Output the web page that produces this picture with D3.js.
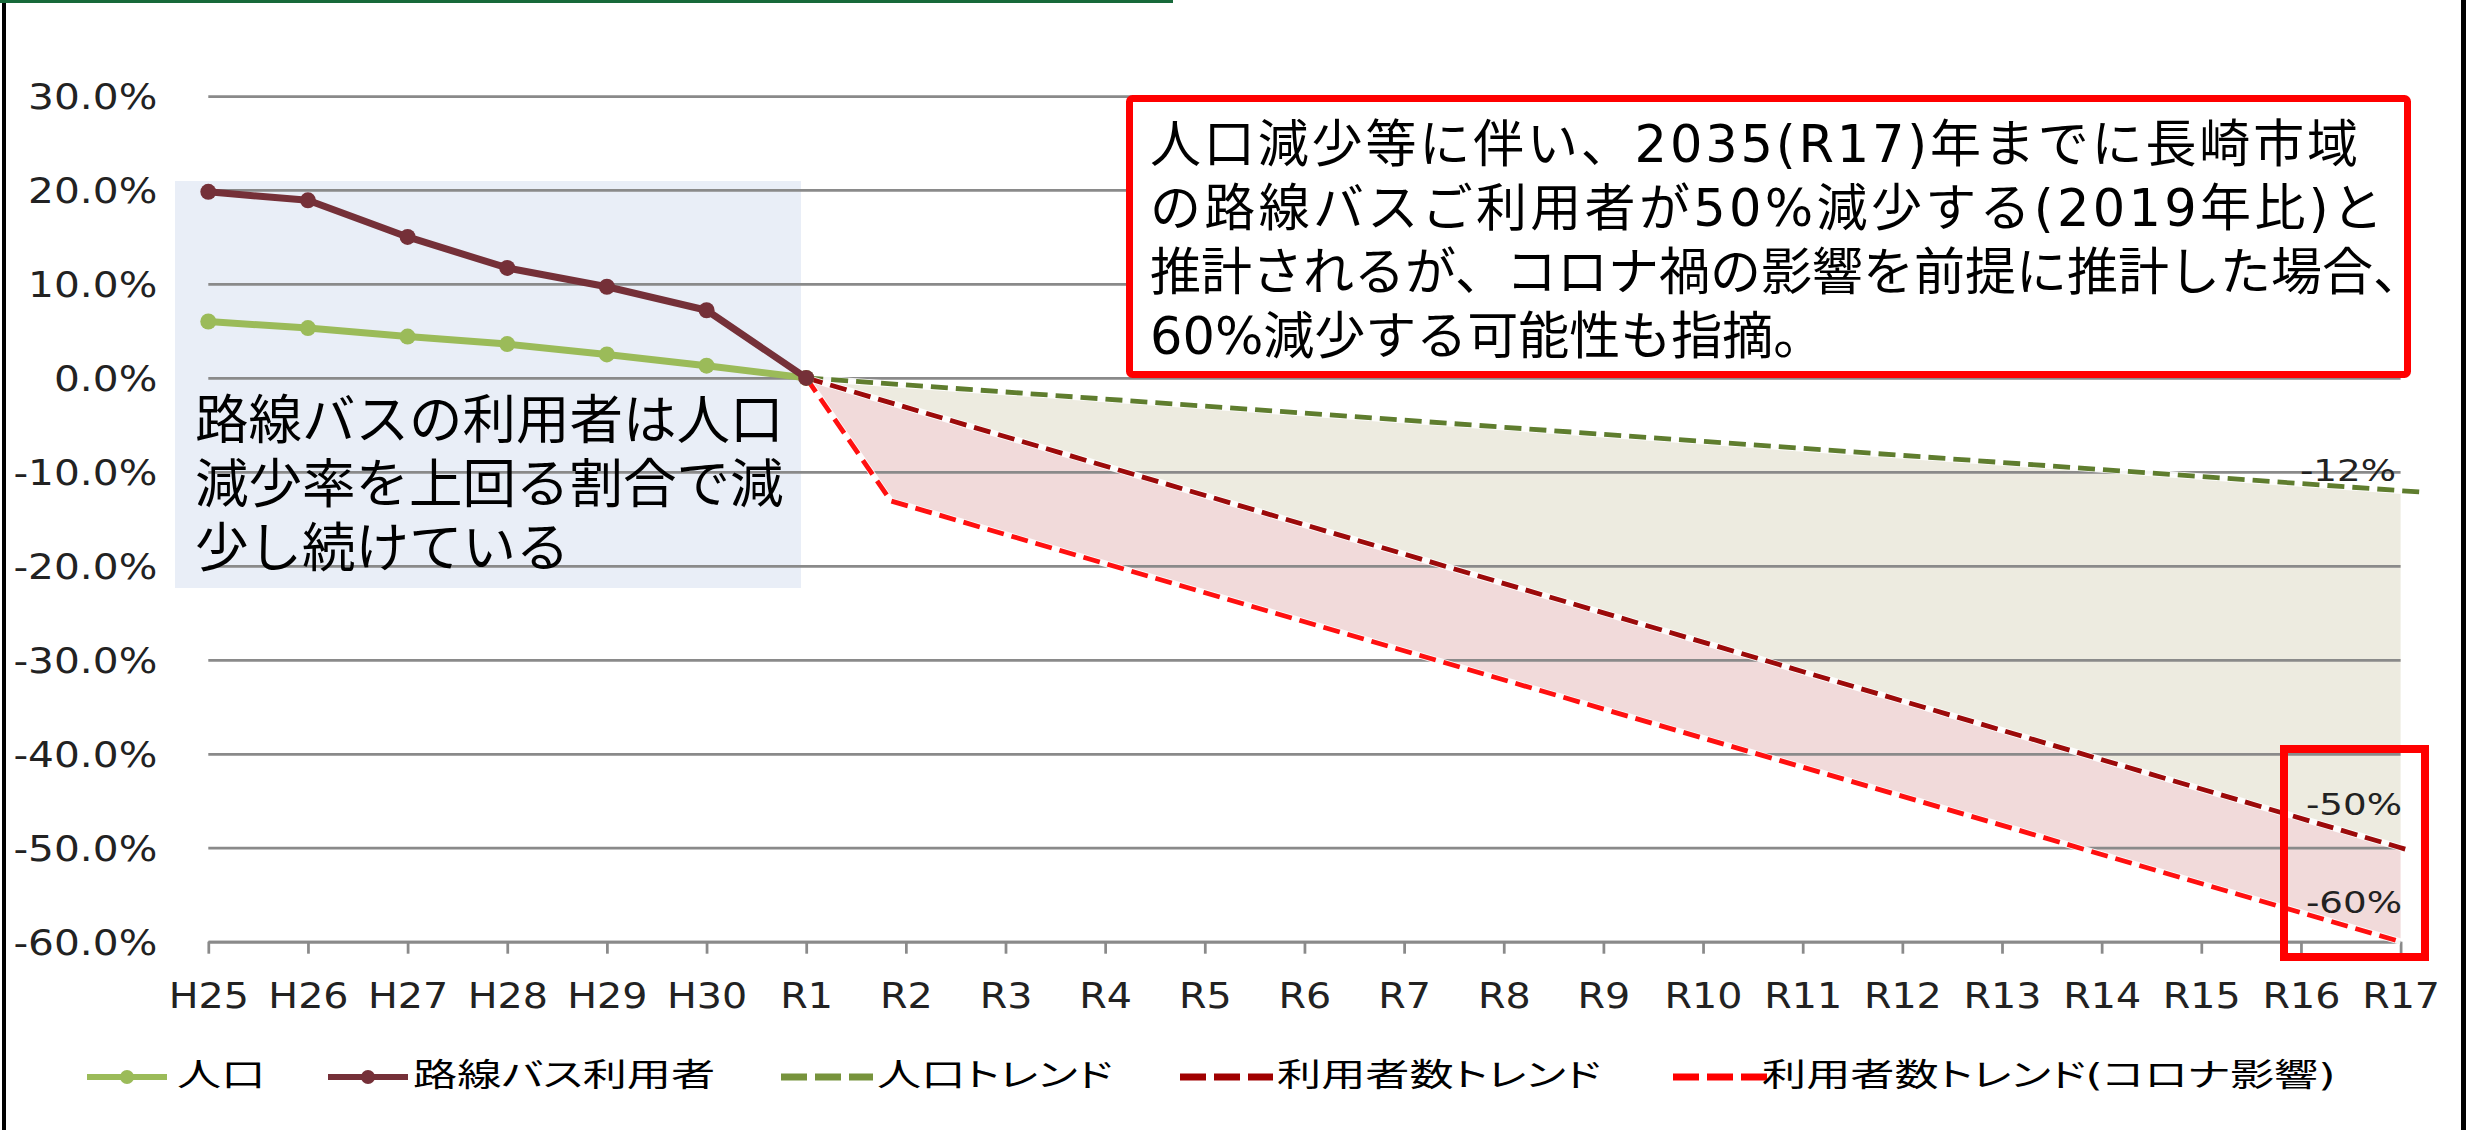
<!DOCTYPE html>
<html lang="ja">
<head>
<meta charset="utf-8">
<script src="https://cdn.jsdelivr.net/npm/d3@7"></script>
<style>
  html, body { margin: 0; padding: 0; background: #ffffff; }
  svg { display: block; }
  .latin { font-family: "DejaVu Sans", "Noto Sans CJK JP", sans-serif; }
  .jp { font-family: "DejaVu Sans", "Noto Sans CJK JP", sans-serif; }
</style>
</head>
<body>
<svg id="chart" width="2469" height="1130"></svg>
<script>
// Fiscal-year categories: Heisei 25 .. Reiwa 17
const categories = ["H25", "H26", "H27", "H28", "H29", "H30", "R1", "R2", "R3", "R4", "R5",
  "R6", "R7", "R8", "R9", "R10", "R11", "R12", "R13", "R14", "R15", "R16", "R17"];

// Change rate vs. R1 (%), observed years H25..R1
const population = [6.0, 5.3, 4.4, 3.6, 2.5, 1.3, 0];
const busRiders = [19.8, 18.9, 15.0, 11.7, 9.7, 7.2, 0];

// Projected trends: [category index, change %]
const populationTrend = [[6, 0], [22, -12]];
const riderTrend = [[6, 0], [22, -50]];
const riderTrendCovid = [[6, 0], [6.85, -13.1], [22, -60]];

const yTicks = [30, 20, 10, 0, -10, -20, -30, -40, -50, -60];
const endLabels = ["-12%", "-50%", "-60%"];
const legendLabels = ["人口", "路線バス利用者", "人口トレンド", "利用者数トレンド", "利用者数トレンド(コロナ影響)"];

const noteLines = [
  "人口減少等に伴い、2035(R17)年までに長崎市域",
  "の路線バスご利用者が50%減少する(2019年比)と",
  "推計されるが、コロナ禍の影響を前提に推計した場合、",
  "60%減少する可能性も指摘。"
];
const boxLines = ["路線バスの利用者は人口", "減少率を上回る割合で減", "少し続けている"];

// ---------------------------------------------------------------
const W = 2469, H = 1130;
const svg = d3.select("#chart");

const x = d3.scaleLinear().domain([0, categories.length - 1]).range([208.3, 2400.6]);
const y = d3.scaleLinear().domain([-60, 30]).range([941.7, 96]);

const COL = {
  pop: "#9BBB59",
  bus: "#753038",
  popTrend: "#5F7D2E",
  busTrend: "#9C0A0A",
  covid: "#FF1010",
  beige: "#EDEBE0",
  pink: "#F1DADA",
  grid: "#8A8A8A",
  text: "#222222"
};

svg.append("rect").attr("width", W).attr("height", H).attr("fill", "#fff");

// outer frame
svg.append("rect").attr("x", 2).attr("y", 0).attr("width", 4).attr("height", H).attr("fill", "#000");
svg.append("rect").attr("x", 2461).attr("y", 0).attr("width", 5).attr("height", H).attr("fill", "#000");
svg.append("rect").attr("x", 0).attr("y", 0).attr("width", 1173).attr("height", 3).attr("fill", "#17693A");

// highlighted past-period panel
svg.append("rect")
  .attr("x", 175).attr("y", 181).attr("width", 626).attr("height", 407)
  .attr("fill", "#E9EEF7");

// shaded bands between the projections
const poly = d3.line().x(d => x(d[0])).y(d => y(d[1]));
const last = a => a[a.length - 1];
const beigeBand = populationTrend.concat([last(riderTrend)]).concat(riderTrend.slice(0, 1));
svg.append("path").attr("d", poly(beigeBand) + "Z").attr("fill", COL.beige);
const pinkBand = riderTrend.concat(riderTrendCovid.slice().reverse());
svg.append("path").attr("d", poly(pinkBand) + "Z").attr("fill", COL.pink);

// y axis with gridlines
const plotW = x(categories.length - 1) - x(0);
const yAxis = svg.append("g")
  .attr("transform", `translate(${x(0)},0)`)
  .call(d3.axisLeft(y).tickValues(yTicks).tickSize(-plotW).tickPadding(51)
    .tickFormat(d => d.toFixed(1) + "%"));
yAxis.select(".domain").remove();
yAxis.selectAll(".tick line").attr("stroke", COL.grid).attr("stroke-width", 2.75);
yAxis.selectAll(".tick text")
  .attr("x", 0).attr("dy", "0.35em")
  .attr("transform", "translate(-51,0) scale(1.13,1)")
  .attr("class", "latin")
  .style("font-size", "36px").attr("fill", COL.text);

// x axis
const xAxis = svg.append("g")
  .attr("transform", `translate(0,${y(-60)})`)
  .call(d3.axisBottom(x).tickValues(d3.range(categories.length)).tickSize(12).tickSizeOuter(0)
    .tickFormat(i => categories[i]));
xAxis.select(".domain").attr("stroke", COL.grid).attr("stroke-width", 2.75);
xAxis.selectAll(".tick line").attr("stroke", COL.grid).attr("stroke-width", 2.75);
xAxis.selectAll(".tick text")
  .attr("y", 53.3).attr("dy", "0.35em")
  .attr("transform", "scale(1.1,1)")
  .attr("class", "latin")
  .style("font-size", "36px").attr("fill", COL.text);

// trend lines (dashed, drawn over a white underlay); forward forecast beyond R17
function extend(pts, forward) {
  const a = pts[pts.length - 2], b = pts[pts.length - 1];
  const slope = (b[1] - a[1]) / (b[0] - a[0]);
  return pts.concat([[b[0] + forward, b[1] + slope * forward]]);
}
function dashed(pts, color) {
  svg.append("path").attr("d", poly(pts)).attr("fill", "none")
    .attr("stroke", "#fff").attr("stroke-width", 6.5).attr("stroke-opacity", 0.9);
  svg.append("path").attr("d", poly(pts)).attr("fill", "none")
    .attr("stroke", color).attr("stroke-width", 4.8).attr("stroke-dasharray", "17,8");
}
dashed(extend(populationTrend, 0.26), COL.popTrend);
dashed(extend(riderTrend, 0.08), COL.busTrend);
dashed(riderTrendCovid, COL.covid);

// observed series
function series(values, color) {
  const pts = values.map((v, i) => [i, v]);
  svg.append("path").attr("d", poly(pts)).attr("fill", "none")
    .attr("stroke", color).attr("stroke-width", 7).attr("stroke-linejoin", "round");
  svg.append("g").selectAll("circle").data(pts).join("circle")
    .attr("cx", d => x(d[0])).attr("cy", d => y(d[1])).attr("r", 8).attr("fill", color);
}
series(population, COL.pop);
series(busRiders, COL.bus);

// note box (upper right)
svg.append("rect")
  .attr("x", 1129.5).attr("y", 98.5).attr("width", 1278).attr("height", 276).attr("rx", 3)
  .attr("fill", "#fff").attr("stroke", "#FF0000").attr("stroke-width", 7);
const noteLen = [1208, 1233, null, null];
svg.append("g").selectAll("text").data(noteLines).join("text")
  .attr("class", "jp")
  .attr("x", 1150).attr("y", (d, i) => 144 + i * 64.3)
  .attr("dominant-baseline", "central")
  .attr("textLength", (d, i) => noteLen[i])
  .attr("lengthAdjust", "spacing")
  .style("font-size", "51px").attr("fill", "#000")
  .text(d => d);

// panel text (left)
svg.append("g").selectAll("text").data(boxLines).join("text")
  .attr("class", "jp")
  .attr("x", 195).attr("y", (d, i) => 420 + i * 64)
  .attr("dominant-baseline", "central")
  .style("font-size", "53.5px").attr("fill", "#000")
  .text(d => d);

// end-of-period labels
const endPos = [[2396, 470], [2402, 804], [2402, 902]];
svg.append("g").selectAll("text").data(endLabels).join("text")
  .attr("class", "latin")
  .attr("text-anchor", "end").attr("dominant-baseline", "central")
  .attr("transform", (d, i) => `translate(${endPos[i][0]},${endPos[i][1]}) scale(1.2,1)`)
  .style("font-size", "31px").attr("fill", COL.text)
  .text(d => d);

// highlight frame around R17 values
svg.append("rect")
  .attr("x", 2284).attr("y", 749).attr("width", 141).attr("height", 208)
  .attr("fill", "none").attr("stroke", "#FF0000").attr("stroke-width", 8);

// legend
const legendY = 1077;
const legendItems = [
  { label: legendLabels[0], color: COL.pop, dash: null, x0: 87, x1: 167, tx: 177 },
  { label: legendLabels[1], color: COL.bus, dash: null, x0: 328, x1: 408, tx: 413 },
  { label: legendLabels[2], color: "#77933C", dash: "26,8", x0: 781, x1: 873, tx: 877 },
  { label: legendLabels[3], color: "#A00000", dash: "26,8", x0: 1180, x1: 1273, tx: 1277 },
  { label: legendLabels[4], color: "#FF0000", dash: "26,8", x0: 1673, x1: 1767, tx: 1762 }
];
const lg = svg.append("g");
legendItems.forEach(it => {
  lg.append("line").attr("x1", it.x0).attr("x2", it.x1).attr("y1", legendY).attr("y2", legendY)
    .attr("stroke", it.color).attr("stroke-width", it.dash ? 7 : 6)
    .attr("stroke-dasharray", it.dash);
  if (!it.dash) {
    lg.append("circle").attr("cx", (it.x0 + it.x1) / 2).attr("cy", legendY).attr("r", 7).attr("fill", it.color);
  }
  lg.append("text").attr("class", "jp")
    .attr("transform", `translate(${it.tx},${legendY - 2}) scale(1.38,1)`)
    .attr("dominant-baseline", "central")
    .style("font-size", "32px").style("font-feature-settings", "'palt'")
    .attr("fill", "#000").text(it.label);
});
</script>
</body>
</html>
